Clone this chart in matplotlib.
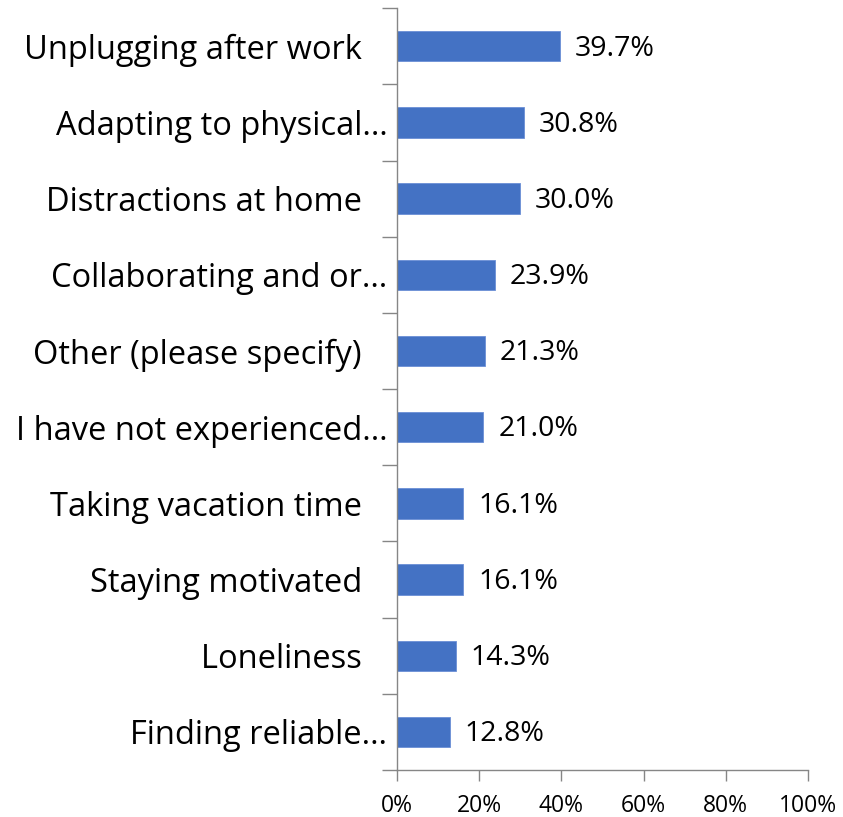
import numpy as np
import matplotlib
matplotlib.use('Agg')
import matplotlib.pyplot as plt
from matplotlib.ticker import FixedLocator, PercentFormatter

# === Data ===
categories = [
    "Unplugging after work",
    "Adapting to physical…",
    "Distractions at home",
    "Collaborating and or…",
    "Other (please specify)",
    "I have not experienced…",
    "Taking vacation time",
    "Staying motivated",
    "Loneliness",
    "Finding reliable…",
]
values = [39.7, 30.8, 30.0, 23.9, 21.3, 21.0, 16.1, 16.1, 14.3, 12.8]
xticks = [0, 20, 40, 60, 80, 100]

plt.rcParams['font.family'] = ['Open Sans', 'DejaVu Sans']
bar_color = '#4472C4'
axis_color = '#868686'

fig = plt.figure(figsize=(8.43, 8.17), dpi=100)
ax = fig.add_axes([0.471, 0.0575, 0.4875, 0.9325])

n = len(categories)
ypos = np.arange(n)[::-1]
ax.barh(ypos, values, height=0.4, color=bar_color, edgecolor='#6b8fd6', linewidth=0.6)

for y, v in zip(ypos, values):
    ax.text(v + 3.6, y - 0.03, f"{v:.1f}%", va='center', ha='left', fontsize=20.5, color='black')

ax.set_xlim(0, 100)
ax.set_ylim(-0.5, n - 0.5)
ax.set_xticks(xticks)
ax.xaxis.set_major_formatter(PercentFormatter(decimals=0))
ax.tick_params(axis='x', labelsize=16.5, length=8, width=1, color=axis_color, pad=9)

# full labels keep some trailing room, truncated ones run up to the axis
labels = [c if c.endswith('…') else c + '   ' for c in categories]
ax.set_yticks(ypos)
ax.set_yticklabels(labels, fontsize=23.5)
ax.tick_params(axis='y', which='major', length=0, pad=7)
ax.yaxis.set_minor_locator(FixedLocator(np.arange(-0.5, n, 1.0)))
ax.tick_params(axis='y', which='minor', length=11, width=1, color=axis_color)

for side in ['top', 'right']:
    ax.spines[side].set_visible(False)
for side in ['left', 'bottom']:
    ax.spines[side].set_color(axis_color)
    ax.spines[side].set_linewidth(1)

fig.savefig('out.png', dpi=100)
